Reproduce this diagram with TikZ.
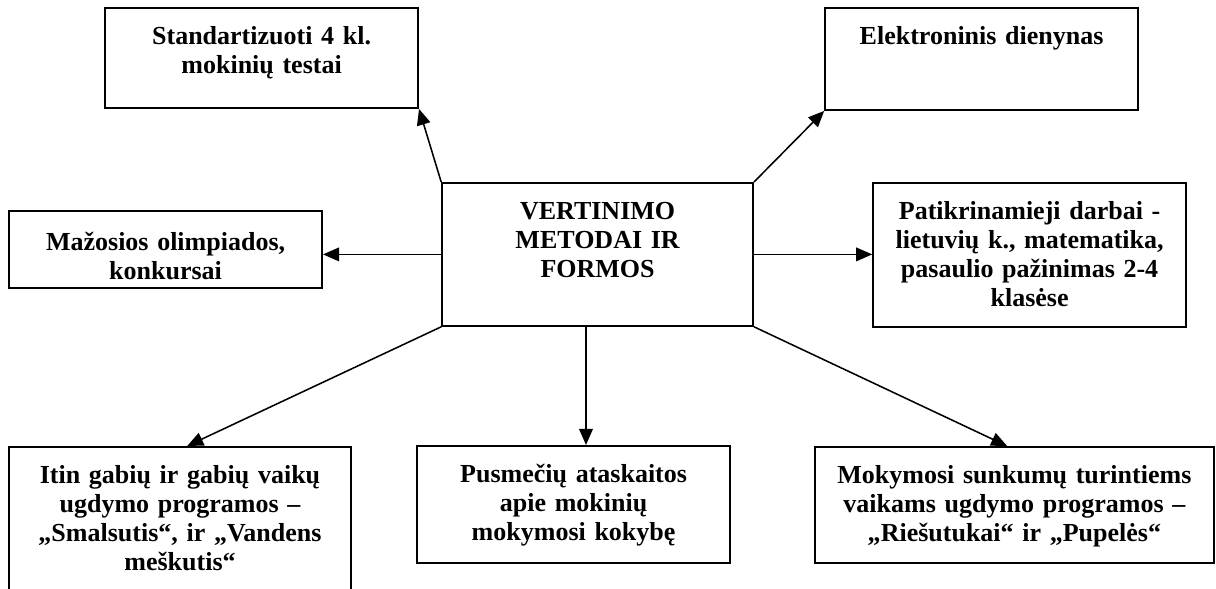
\documentclass[tikz,border=0pt]{standalone}
\usepackage{fontspec}
\setmainfont{Liberation Serif}
\usetikzlibrary{positioning, arrows.meta}

\begin{document}
\begin{tikzpicture}[
    box/.style={draw, line width=1.3pt, inner sep=0pt, align=center,
      text height=0.92cm, font=\fontsize{18.5}{20.6}\selectfont\bfseries},
    arr/.style={-{Triangle[length=0.4cm,width=0.34cm]}, line width=1.1pt}]
  \clip (0,0) rectangle (30.4,-14.725);
  \node[box, text width=7.775cm, text depth=2.655cm] (met)  at (14.94,-6.36)
    {VERTINIMO\\ METODAI IR\\ FORMOS};
  \node[box, text width=7.825cm, text depth=1.58cm]  (std)  at (6.54,-1.45)
    {Standartizuoti 4 kl.\\ mokinių testai};
  \node[box, text width=7.825cm, text depth=1.63cm]  (elek) at (24.54,-1.475)
    {Elektroninis dienynas};
  \node[box, text width=7.825cm, text height=0.975cm, text depth=0.95cm] (maz) at (4.14,-6.24)
    {Mažosios olimpiados,\\ konkursai};
  \node[box, text width=7.825cm, text depth=2.68cm]  (pat)  at (25.74,-6.375)
    {Patikrinamieji darbai -\\ lietuvių k., matematika,\\ pasaulio pažinimas 2-4\\ klasėse};
  \node[box, text width=8.55cm, text depth=3.155cm]  (itin) at (4.5,-13.21)
    {Itin gabių ir gabių vaikų\\ ugdymo programos –\\ „Smalsutis“, ir „Vandens\\ meškutis“};
  \node[box, text width=7.825cm, text depth=2.005cm] (pus)  at (14.34,-12.61)
    {Pusmečių ataskaitos\\ apie mokinių\\ mokymosi kokybę};
  \node[box, text width=9.975cm, text depth=1.98cm]  (mok)  at (25.36,-12.625)
    {Mokymosi sunkumų turintiems\\ vaikams ugdymo programos –\\ „Riešutukai“ ir „Pupelės“};
  \draw[arr] (met.north west) -- (std.south east);
  \draw[arr] (met.north east) -- (elek.south west);
  \draw[arr] (met.west) -- (maz.east |- met.west);
  \draw[arr] (met.east) -- (pat.west |- met.east);
  \draw[arr] (met.south west) -- ([xshift=0.18cm]itin.north);
  \draw[arr] ([xshift=-0.29cm]met.south) -- ([xshift=-0.29cm]met.south |- pus.north);
  \draw[arr] (met.south east) -- ([xshift=-0.18cm]mok.north);
\end{tikzpicture}
\end{document}
